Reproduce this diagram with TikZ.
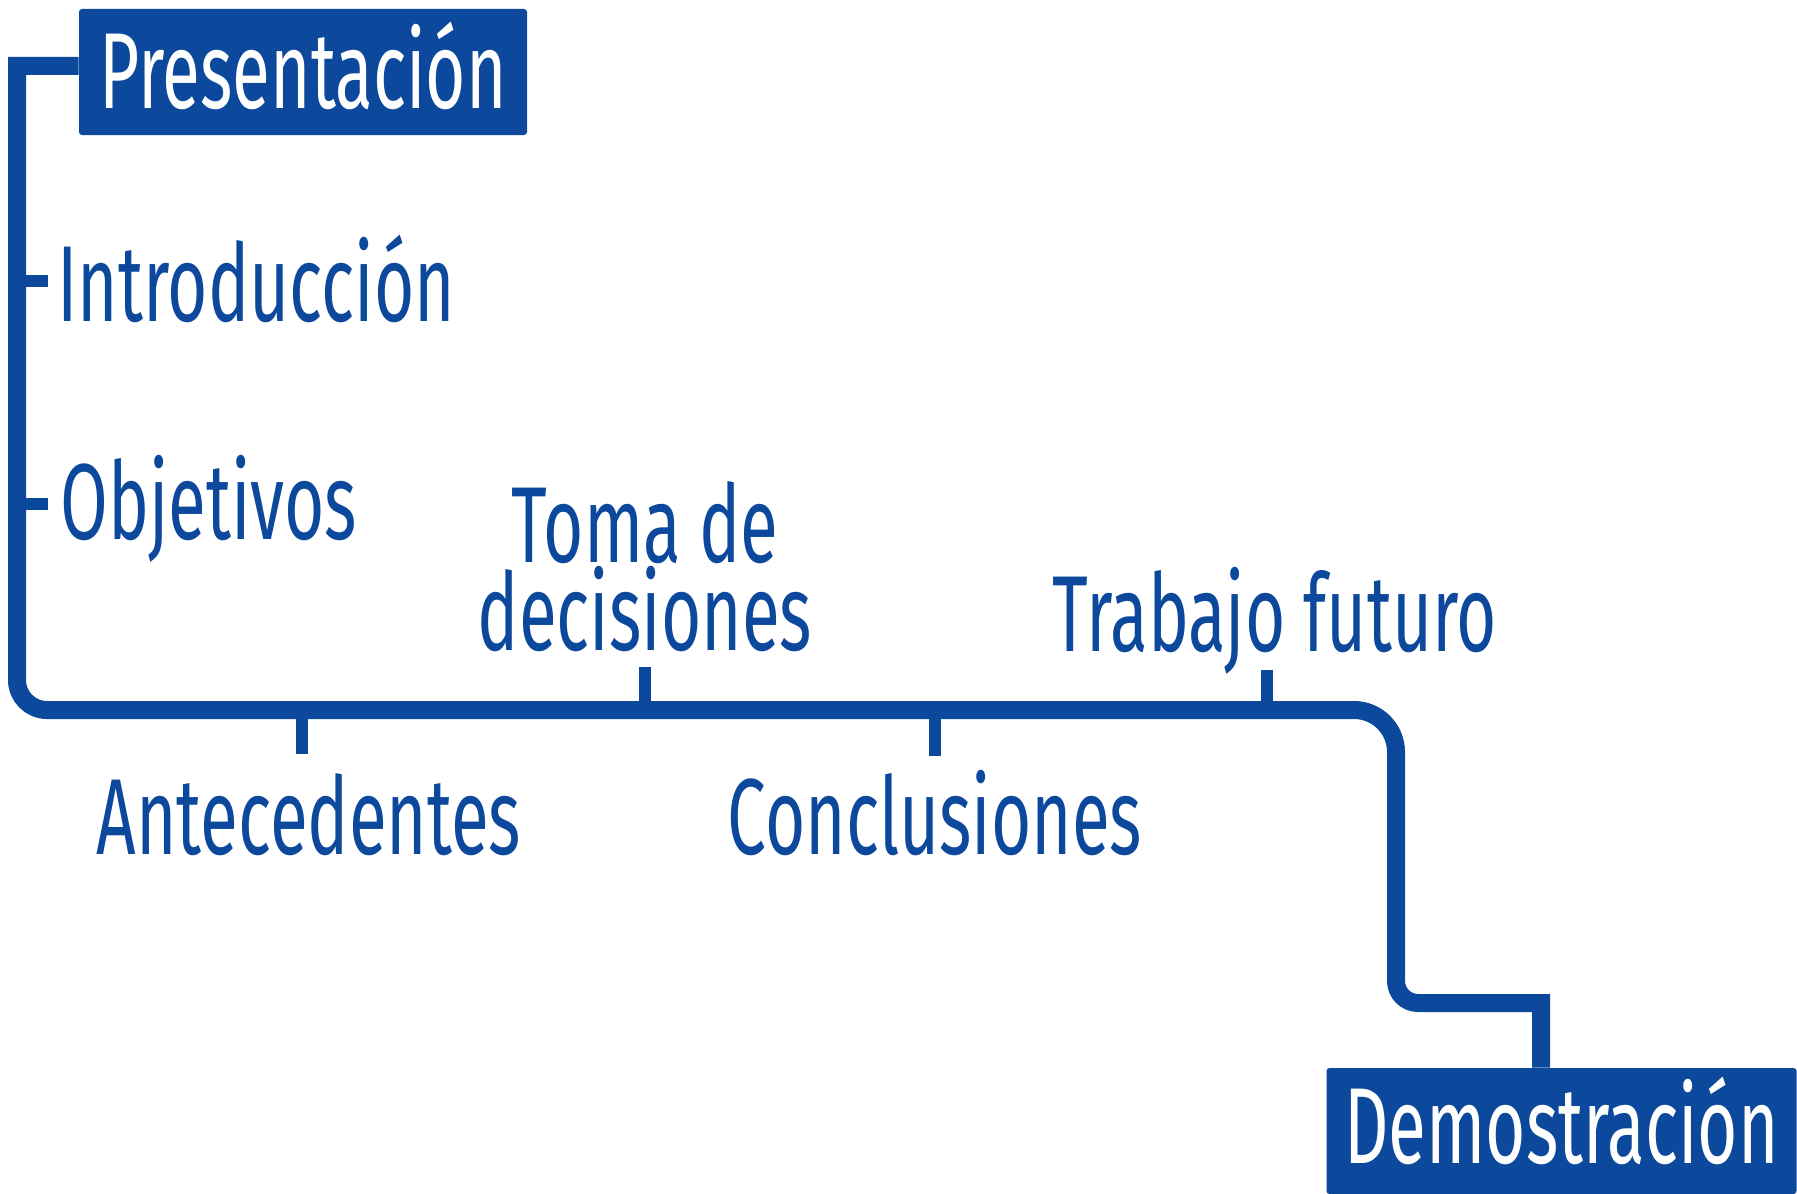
\documentclass[tikz,border=0pt]{standalone}
\usepackage{fontspec}
\newfontfamily\condfont[FakeStretch=0.64]{Fira Sans}
\definecolor{uniblue}{RGB}{12,72,155}
\begin{document}
\begin{tikzpicture}[x=0.5pt,y=-0.5pt,
  lbl/.style={inner sep=0pt, text=uniblue, font=\condfont\fontsize{54}{42.5}\selectfont},
  boxlbl/.style={inner sep=0pt, fill=uniblue, text=white, rounded corners=1.5pt,
    font=\condfont\fontsize{54}{42.5}\selectfont},
  mainline/.style={draw=uniblue, line width=9pt},
  tick/.style={draw=uniblue, line width=6pt},
]
\useasboundingbox (0,0) rectangle (1797,1193);
% boxes
\node[boxlbl, minimum width=224pt, minimum height=63pt, text depth=7pt] (pres) at (303,72) {Presentación};
\node[boxlbl, minimum width=235pt, minimum height=63pt, text depth=11pt] (demo) at (1561.5,1131) {Demostración};
% labels
\node[lbl, anchor=base west] (intro) at (57,321) {Introducción};
\node[lbl, anchor=base west] (obj) at (60,539) {Objetivos};
\node[lbl, anchor=base, align=center] (toma) at (645,650) {Toma de\\decisiones};
\node[lbl, anchor=base] (trab) at (1275,651) {Trabajo futuro};
\node[lbl, anchor=base] (ante) at (309,854) {Antecedentes};
\node[lbl, anchor=base] (concl) at (935,854) {Conclusiones};
% route coordinates
\coordinate (c1) at (17,66);
\coordinate (c2) at (17,710);
\coordinate (c3) at (1396,710);
\coordinate (c4) at (1396,1003);
\coordinate (c5) at (1541,1003);
\draw[mainline] (pres.west |- c1) -- (c1) [rounded corners=15pt] -- (c2) [rounded corners=21pt] -- (c3)
  [rounded corners=11pt] -- (c4) [sharp corners] -- (c5) -- (c5 |- demo.north);
% ticks
\coordinate (tIntroA) at (17,281);  \coordinate (tIntroB) at (48,281);
\coordinate (tObjA) at (17,504);    \coordinate (tObjB) at (48,504);
\coordinate (tAnteA) at (302,710);  \coordinate (tAnteB) at (302,754);
\coordinate (tTomaA) at (645,710);  \coordinate (tTomaB) at (645,667);
\coordinate (tConA) at (935,710);   \coordinate (tConB) at (935,756);
\coordinate (tTrabA) at (1267,710); \coordinate (tTrabB) at (1267,670);
\draw[tick] (tIntroA) -- (tIntroB);
\draw[tick] (tObjA) -- (tObjB);
\draw[tick] (tAnteA) -- (tAnteB);
\draw[tick] (tTomaA) -- (tTomaB);
\draw[tick] (tConA) -- (tConB);
\draw[tick] (tTrabA) -- (tTrabB);
\end{tikzpicture}
\end{document}
